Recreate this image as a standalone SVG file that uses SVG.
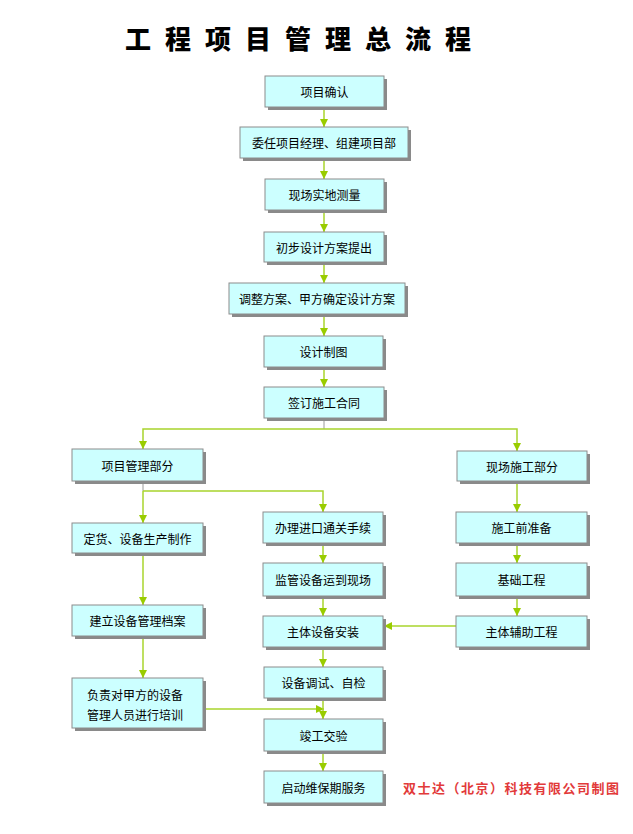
<svg xmlns="http://www.w3.org/2000/svg" width="633" height="834" viewBox="0 0 633 834">
<style>
.sh{fill:#8a8a8a}
.bx{fill:#ccffff;stroke:#8c8c8c;stroke-width:1}
.t{font-family:"Noto Sans CJK SC","Liberation Sans",sans-serif;font-size:12px;fill:#000;text-anchor:middle;dominant-baseline:central}
.c{fill:none;stroke:#a8d42c;stroke-width:1.5}
.g{fill:none;stroke:#9a9a9a;stroke-width:1}
.title{font-family:"Noto Sans CJK SC",sans-serif;font-size:26px;font-weight:900;fill:#000;letter-spacing:14px}
.foot{font-family:"Noto Sans CJK SC",sans-serif;font-size:13px;font-weight:700;fill:#e23a3a;letter-spacing:1.5px}
</style>
<defs>
<marker id="ah" markerUnits="userSpaceOnUse" viewBox="0 0 10 10" refX="10" refY="5" markerWidth="8" markerHeight="8" orient="auto">
<path d="M0,0 L10,5 L0,10 Z" fill="#99cc00"/>
</marker>
</defs>
<rect width="633" height="834" fill="#fff"/>
<text class="title" x="125" y="49">工程项目管理总流程</text>

<g id="connectors">
<path class="c" d="M324,107 V127" marker-end="url(#ah)"/>
<path class="c" d="M324,158 V179" marker-end="url(#ah)"/>
<path class="c" d="M324,210 V232" marker-end="url(#ah)"/>
<path class="c" d="M324,262 V283" marker-end="url(#ah)"/>
<path class="c" d="M324,314 V336" marker-end="url(#ah)"/>
<path class="c" d="M324,367 V387" marker-end="url(#ah)"/>
<path class="g" d="M324,418 V429"/>
<path class="c" d="M324,429 H143 V449" marker-end="url(#ah)"/>
<path class="c" d="M324,429 H517 V451" marker-end="url(#ah)"/>
<path class="g" d="M143,481 V491"/>
<path class="c" d="M143,491 V523" marker-end="url(#ah)"/>
<path class="c" d="M143,491 H323 V512" marker-end="url(#ah)"/>
<path class="c" d="M143,553 V605" marker-end="url(#ah)"/>
<path class="c" d="M143,636 V678" marker-end="url(#ah)"/>
<path class="c" d="M203,709 H324" marker-end="url(#ah)"/>
<path class="c" d="M323,543 V563" marker-end="url(#ah)"/>
<path class="c" d="M323,596 V616" marker-end="url(#ah)"/>
<path class="c" d="M323,647 V667" marker-end="url(#ah)"/>
<path class="c" d="M323,698 V719" marker-end="url(#ah)"/>
<path class="c" d="M323,751 V771" marker-end="url(#ah)"/>
<path class="c" d="M517,481 V512" marker-end="url(#ah)"/>
<path class="c" d="M517,543 V563" marker-end="url(#ah)"/>
<path class="c" d="M517,596 V616" marker-end="url(#ah)"/>
<path class="c" d="M456,626 H384" marker-end="url(#ah)"/>
</g>

<g id="n1"><rect class="sh" x="268" y="79" width="119" height="31"/><rect class="bx" x="265" y="76" width="119" height="31"/><text class="t" x="324.5" y="91.5">项目确认</text></g>
<g id="n2"><rect class="sh" x="243" y="130" width="168" height="31"/><rect class="bx" x="240" y="127" width="168" height="31"/><text class="t" x="324" y="142.5">委任项目经理、组建项目部</text></g>
<g id="n3"><rect class="sh" x="268" y="182" width="119" height="31"/><rect class="bx" x="265" y="179" width="119" height="31"/><text class="t" x="324.5" y="194.5">现场实地测量</text></g>
<g id="n4"><rect class="sh" x="267" y="235" width="120" height="30"/><rect class="bx" x="264" y="232" width="120" height="30"/><text class="t" x="324" y="247">初步设计方案提出</text></g>
<g id="n5"><rect class="sh" x="232" y="286" width="176" height="31"/><rect class="bx" x="229" y="283" width="176" height="31"/><text class="t" x="317" y="298.5">调整方案、甲方确定设计方案</text></g>
<g id="n6"><rect class="sh" x="267" y="339" width="119" height="31"/><rect class="bx" x="264" y="336" width="119" height="31"/><text class="t" x="323.5" y="351.5">设计制图</text></g>
<g id="n7"><rect class="sh" x="267" y="390" width="120" height="31"/><rect class="bx" x="264" y="387" width="120" height="31"/><text class="t" x="324" y="402.5">签订施工合同</text></g>

<g id="n8"><rect class="sh" x="75" y="452" width="131" height="32"/><rect class="bx" x="72" y="449" width="131" height="32"/><text class="t" x="137.5" y="465">项目管理部分</text></g>
<g id="n9"><rect class="sh" x="460" y="454" width="130" height="30"/><rect class="bx" x="457" y="451" width="130" height="30"/><text class="t" x="522" y="466">现场施工部分</text></g>

<g id="n10"><rect class="sh" x="75" y="526" width="131" height="30"/><rect class="bx" x="72" y="523" width="131" height="30"/><text class="t" x="137.5" y="538">定货、设备生产制作</text></g>
<g id="n11"><rect class="sh" x="75" y="608" width="131" height="31"/><rect class="bx" x="72" y="605" width="131" height="31"/><text class="t" x="137.5" y="620.5">建立设备管理档案</text></g>
<g id="n12"><rect class="sh" x="75" y="681" width="131" height="50"/><rect class="bx" x="72" y="678" width="131" height="50"/><text class="t" x="135" y="694">负责对甲方的设备</text><text class="t" x="135" y="714">管理人员进行培训</text></g>

<g id="n13"><rect class="sh" x="266" y="515" width="120" height="31"/><rect class="bx" x="263" y="512" width="120" height="31"/><text class="t" x="323" y="527.5">办理进口通关手续</text></g>
<g id="n14"><rect class="sh" x="266" y="566" width="120" height="33"/><rect class="bx" x="263" y="563" width="120" height="33"/><text class="t" x="323" y="579.5">监管设备运到现场</text></g>
<g id="n15"><rect class="sh" x="266" y="619" width="120" height="31"/><rect class="bx" x="263" y="616" width="120" height="31"/><text class="t" x="323" y="631.5">主体设备安装</text></g>
<g id="n16"><rect class="sh" x="267" y="670" width="119" height="31"/><rect class="bx" x="264" y="667" width="119" height="31"/><text class="t" x="323.5" y="682.5">设备调试、自检</text></g>
<g id="n17"><rect class="sh" x="267" y="722" width="119" height="32"/><rect class="bx" x="264" y="719" width="119" height="32"/><text class="t" x="323.5" y="735">竣工交验</text></g>
<g id="n18"><rect class="sh" x="267" y="774" width="119" height="32"/><rect class="bx" x="264" y="771" width="119" height="32"/><text class="t" x="323.5" y="787">启动维保期服务</text></g>

<g id="n19"><rect class="sh" x="459" y="515" width="131" height="31"/><rect class="bx" x="456" y="512" width="131" height="31"/><text class="t" x="521.5" y="527.5">施工前准备</text></g>
<g id="n20"><rect class="sh" x="459" y="566" width="131" height="33"/><rect class="bx" x="456" y="563" width="131" height="33"/><text class="t" x="521.5" y="579.5">基础工程</text></g>
<g id="n21"><rect class="sh" x="459" y="619" width="131" height="31"/><rect class="bx" x="456" y="616" width="131" height="31"/><text class="t" x="521.5" y="631.5">主体辅助工程</text></g>

<text class="foot" x="403" y="793">双士达（北京）科技有限公司制图</text>
</svg>
